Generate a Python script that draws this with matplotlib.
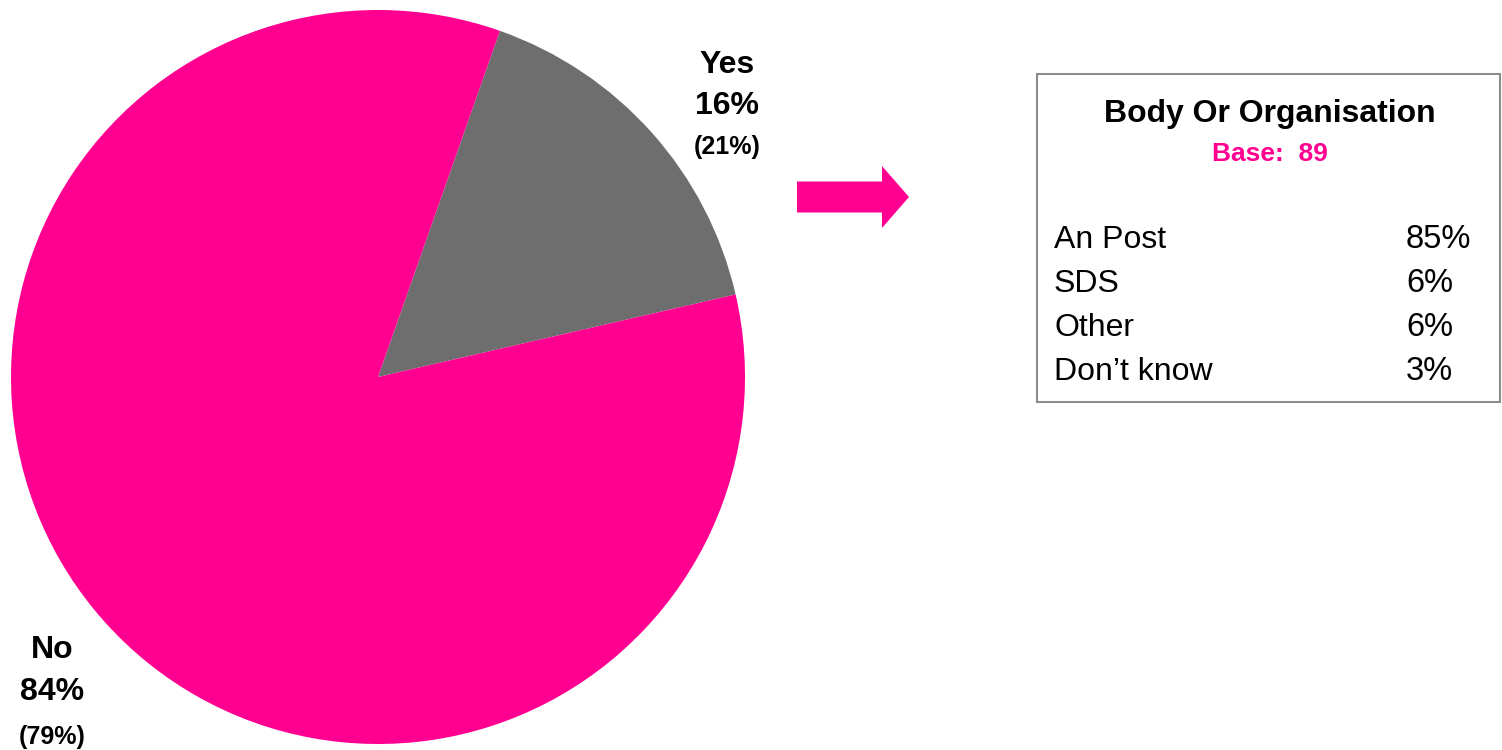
import matplotlib.pyplot as plt
import matplotlib.patches as mpatches

plt.rcParams['font.family'] = ['Liberation Sans', 'DejaVu Sans']

# Main question split
answers = ['Yes', 'No']
shares = [16, 84]
prev_shares = [21, 79]
slice_colors = ['#6e6e6e', '#ff0090']

# Follow-up breakdown for those who said yes
breakdown_title = 'Body Or Organisation'
breakdown_base = 89
bodies = ['An Post', 'SDS', 'Other', 'Don\u2019t know']
body_shares = [85, 6, 6, 3]

PINK = '#ff0090'
W, H = 1502, 750

fig = plt.figure(figsize=(W / 100, H / 100), dpi=100)
ax = fig.add_axes([0, 0, 1, 1])
ax.set_xlim(0, W)
ax.set_ylim(0, H)
ax.set_aspect('equal')
ax.axis('off')

# pie, drawn in pixel-like coordinates (y grows upwards)
ax.pie(shares, colors=slice_colors, center=(378, 373), radius=367,
       startangle=70.6, counterclock=False,
       wedgeprops=dict(linewidth=0))
ax.set_xlim(0, W)
ax.set_ylim(0, H)

label_pos = {'Yes': (727, [685, 644, 603]), 'No': (52, [100, 58, 13])}
for name, pct, prev in zip(answers, shares, prev_shares):
    x, ys = label_pos[name]
    ax.text(x, ys[0], name, ha='center', va='center', fontsize=23, fontweight='bold')
    ax.text(x, ys[1], f'{pct}%', ha='center', va='center', fontsize=23, fontweight='bold')
    ax.text(x, ys[2], f'({prev}%)', ha='center', va='center', fontsize=18, fontweight='bold')

# arrow pointing to the breakdown box
ax.add_patch(mpatches.FancyArrow(797, 553, 112, 0, width=31, head_width=62,
                                 head_length=27, length_includes_head=True,
                                 color=PINK, linewidth=0))

# breakdown box
ax.add_patch(mpatches.Rectangle((1037, 348), 463, 328, fill=False,
                                edgecolor='#8c8c8c', linewidth=1.5))
ax.text(1270, 636, breakdown_title, ha='center', va='center',
        fontsize=23, fontweight='bold')
ax.text(1270, 596, f'Base:  {breakdown_base}', ha='center', va='center',
        fontsize=19, fontweight='bold', color=PINK)
for i, (body, val) in enumerate(zip(bodies, body_shares)):
    y = 510 - i * 44
    ax.text(1054, y, body, ha='left', va='center', fontsize=23)
    ax.text(1406, y, f'{val}%', ha='left', va='center', fontsize=23.5)

fig.savefig('out.png', dpi=100)
